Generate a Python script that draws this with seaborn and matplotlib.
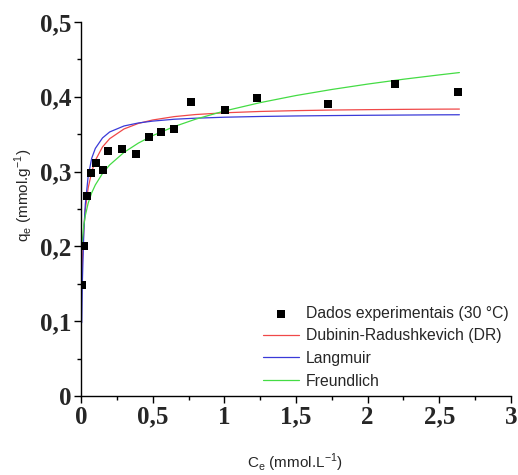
import matplotlib
matplotlib.use("Agg")
import matplotlib.pyplot as plt
import seaborn as sns
import pandas as pd
from matplotlib.ticker import FixedLocator, MultipleLocator

# Experimental points (Ce in mmol/L, qe in mmol/g)
ce_exp = [0.007, 0.022, 0.044, 0.070, 0.107, 0.156, 0.190, 0.288, 0.386,
          0.475, 0.560, 0.647, 0.766, 1.007, 1.230, 1.720, 2.190, 2.630]
qe_exp = [0.149, 0.201, 0.268, 0.298, 0.311, 0.302, 0.328, 0.330, 0.324,
          0.346, 0.353, 0.357, 0.393, 0.383, 0.399, 0.391, 0.417, 0.406]

# Model curves
c_fit = [0.005, 0.01, 0.02, 0.03, 0.05, 0.075, 0.1, 0.15, 0.2, 0.3, 0.4, 0.5,
         0.65, 0.8, 1.0, 1.25, 1.5, 1.75, 2.0, 2.25, 2.5, 2.64]
q_dr = [0.144, 0.183, 0.224, 0.249, 0.278, 0.300, 0.315, 0.333, 0.344, 0.357,
        0.3644, 0.369, 0.3735, 0.3763, 0.3786, 0.3804, 0.3815, 0.3823, 0.3828,
        0.3832, 0.3835, 0.3836]
q_langmuir = [0.098, 0.156, 0.221, 0.256, 0.294, 0.318, 0.331, 0.345, 0.353,
              0.361, 0.365, 0.3675, 0.370, 0.3714, 0.3727, 0.3737, 0.3744,
              0.3749, 0.3753, 0.3756, 0.3759, 0.3760]
c_freund = [0.007, 0.01, 0.02, 0.03, 0.05, 0.075, 0.1, 0.15, 0.2, 0.3, 0.4, 0.5,
            0.65, 0.8, 1.0, 1.25, 1.5, 1.75, 2.0, 2.25, 2.5, 2.64]
q_freundlich = [0.200, 0.209, 0.2287, 0.2411, 0.2578, 0.2718, 0.2822, 0.2975,
                0.3089, 0.3257, 0.3381, 0.3481, 0.3602, 0.3701, 0.3810, 0.3922,
                0.4017, 0.4098, 0.4170, 0.4235, 0.4293, 0.4324]

x_ticks = [0, 0.5, 1, 1.5, 2, 2.5, 3]
x_ticklabels = ["0", "0,5", "1", "1,5", "2", "2,5", "3"]
y_ticks = [0, 0.1, 0.2, 0.3, 0.4, 0.5]
y_ticklabels = ["0", "0,1", "0,2", "0,3", "0,4", "0,5"]

sns.set_style("ticks")
plt.rcParams["font.family"] = ["Liberation Sans", "DejaVu Sans"]

fig = plt.figure(figsize=(5.18, 4.75), dpi=100)
ax = fig.add_axes([81 / 518, 79 / 475, 430 / 518, 374 / 475])

exp_df = pd.DataFrame({"Ce": ce_exp, "qe": qe_exp})
dr_df = pd.DataFrame({"Ce": c_fit, "qe": q_dr})
lg_df = pd.DataFrame({"Ce": c_fit, "qe": q_langmuir})
fr_df = pd.DataFrame({"Ce": c_freund, "qe": q_freundlich})

sns.scatterplot(data=exp_df, x="Ce", y="qe", ax=ax, marker="s", s=36,
                color="black", edgecolor="black", linewidth=0,
                label="Dados experimentais (30 °C)", zorder=3)
sns.lineplot(data=dr_df, x="Ce", y="qe", ax=ax, color="#f04848", lw=0.9,
             estimator=None, sort=False, label="Dubinin-Radushkevich (DR)")
sns.lineplot(data=lg_df, x="Ce", y="qe", ax=ax, color="#3a3ad8", lw=0.9,
             estimator=None, sort=False, label="Langmuir")
sns.lineplot(data=fr_df, x="Ce", y="qe", ax=ax, color="#44dc44", lw=0.9,
             estimator=None, sort=False, label="Freundlich")

ax.set_xlim(0, 3)
ax.set_ylim(0, 0.5)
ax.xaxis.set_major_locator(FixedLocator(x_ticks))
ax.yaxis.set_major_locator(FixedLocator(y_ticks))
ax.xaxis.set_minor_locator(MultipleLocator(0.25))
ax.yaxis.set_minor_locator(MultipleLocator(0.05))
ax.set_xticklabels(x_ticklabels, fontfamily="Liberation Serif",
                   fontweight="bold", fontsize=18)
ax.set_yticklabels(y_ticklabels, fontfamily="Liberation Serif",
                   fontweight="bold", fontsize=18)
ax.tick_params(which="major", direction="out", length=5, width=1.0,
               color="black", pad=2)
ax.tick_params(which="minor", direction="out", length=3, width=1.0,
               color="black")
for s in ["top", "right"]:
    ax.spines[s].set_visible(False)
for s in ["left", "bottom"]:
    ax.spines[s].set_linewidth(1.0)
    ax.spines[s].set_color("black")

ax.set_xlabel("C$_\\mathregular{e}$ (mmol.L$^\\mathregular{-1}$)", fontsize=11)
ax.set_ylabel("q$_\\mathregular{e}$ (mmol.g$^\\mathregular{-1}$)", fontsize=11)
ax.xaxis.label.set_va("center")
ax.yaxis.label.set_va("center")
ax.xaxis.set_label_coords(0.498, -0.178)
ax.yaxis.set_label_coords(-0.133, 0.537)

ax.legend(loc="lower right", bbox_to_anchor=(0.995, 0.02), frameon=False,
          fontsize=11.3, borderpad=0, handlelength=2.3, handletextpad=0.45,
          labelspacing=0.48, borderaxespad=0)

fig.savefig("out.png", dpi=100)
